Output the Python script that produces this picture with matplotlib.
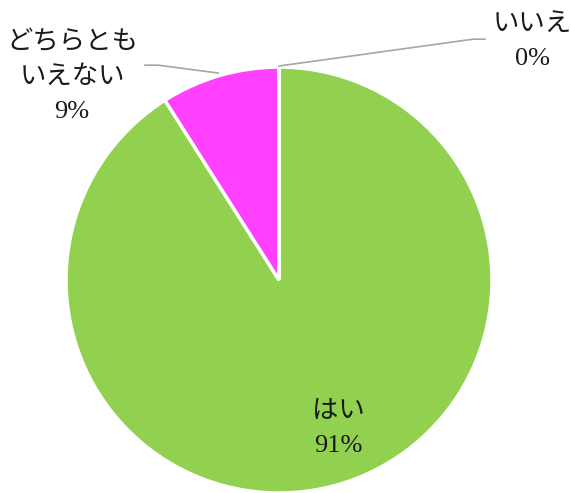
import matplotlib
matplotlib.use("Agg")
import matplotlib.pyplot as plt

# data
labels = ["はい", "どちらとも\nいえない", "いいえ"]
values = [91, 9, 0]
colors = ["#92D050", "#FF40FF", "#A6A6A6"]

# label placement (pie radius = 1)
label_pos = [(0.277, -0.70), (-0.972, 0.955), (1.19, 1.117)]
leaders = {
    1: [(-0.629, 1.009), (-0.568, 1.009), (-0.286, 0.972)],
    2: [(0.0, 1.005), (0.911, 1.131), (0.967, 1.131)],
}

font = ["Liberation Serif", "Noto Sans CJK JP"]

fig = plt.figure(figsize=(5.71, 4.93), dpi=100)
ax = fig.add_axes([0, 0, 1, 1])

ax.pie(values, colors=colors, startangle=90, counterclock=False,
       wedgeprops=dict(edgecolor="white", linewidth=2.5), radius=1.0)

for i, (lab, v) in enumerate(zip(labels, values)):
    x, y = label_pos[i]
    ax.text(x, y, f"{lab}\n{v}%", ha="center", va="center", fontsize=19,
            family=font, linespacing=1.7, color="#1a1a1a")
    if i in leaders:
        xs, ys = zip(*leaders[i])
        ax.plot(xs, ys, color="#A6A6A6", linewidth=1.2)

ax.set_xlim(-1.31, 1.371)
ax.set_ylim(-1.0, 1.315)
ax.set_aspect("auto")
ax.axis("off")

fig.savefig("out.png", dpi=100)
